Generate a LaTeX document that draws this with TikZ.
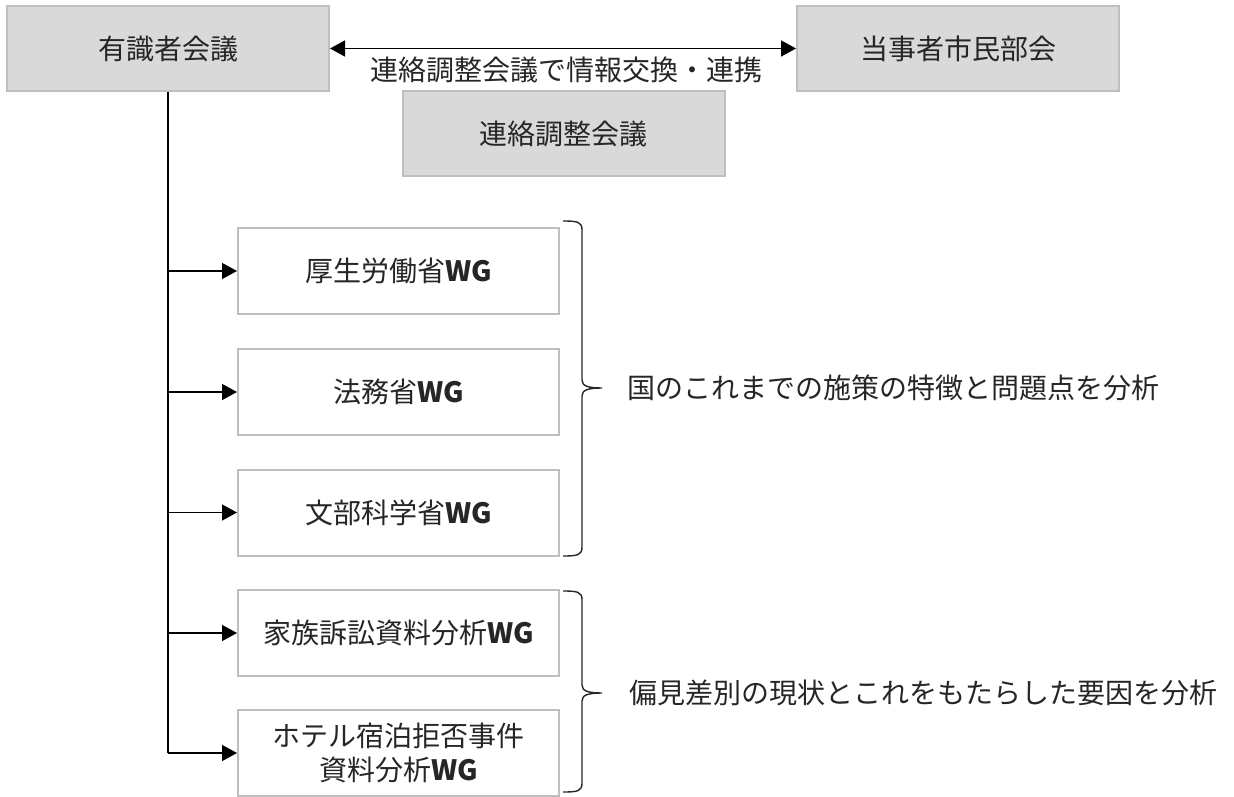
\documentclass[tikz,border=0pt]{standalone}
\usepackage{fontspec}
\setmainfont{Noto Sans CJK JP}
\usetikzlibrary{arrows.meta}
\begin{document}
\begin{tikzpicture}[x=0.5pt,y=-0.5pt,
    graybox/.style={draw=black!25,line width=1pt,fill=black!15,text=black!85,
      minimum width=161pt,minimum height=42.5pt,inner sep=0pt,font=\fontsize{14}{17}\selectfont},
    wgbox/.style={draw=black!25,line width=1pt,fill=white,text=black!85,align=center,
      minimum width=160.5pt,minimum height=43pt,inner sep=0pt,font=\fontsize{14}{17}\selectfont},
    arr/.style={-{Triangle[length=7.5pt,width=8pt]},line width=0.7pt},
    arrboth/.style={{Triangle[length=7.5pt,width=8pt]}-{Triangle[length=7.5pt,width=8pt]},line width=0.7pt},
    brace/.style={line width=0.7pt,black!85}]
      \useasboundingbox (0,0) rectangle (1234,796);
      \node[graybox] (yushiki) at (168,48.5) {有識者会議};
      \node[graybox] (toujisha) at (958,48.5) {当事者市民部会};
      \node[graybox] (renraku) at (563.5,134) {連絡調整会議};
      \draw[arrboth] (yushiki.east) -- (toujisha.west);
      \node[font=\fontsize{14}{17}\selectfont,text=black!85] (koukan) at (566,70) {連絡調整会議で情報交換・連携};
      \node[wgbox] (kousei) at (398.5,271) {厚生労働省\textbf{WG}};
      \node[wgbox] (houmu) at (398.5,392) {法務省\textbf{WG}};
      \node[wgbox] (monbu) at (398.5,512.5) {文部科学省\textbf{WG}};
      \node[wgbox] (kazoku) at (398.5,633) {家族訴訟資料分析\textbf{WG}};
      \node[wgbox] (hotel) at (398.5,753) {ホテル宿泊拒否事件\\資料分析\textbf{WG}};
      \draw[line width=0.8pt] (yushiki.south) -- (yushiki.south |- hotel.west);
      \foreach \wg in {kousei,houmu,monbu,kazoku,hotel}
        \draw[arr] (yushiki.south |- \wg.west) -- (\wg.west);
      \draw[brace]
      (563,221) .. controls (578,221) and (582,222) .. (582,230) --
      (582,380) .. controls (582,386) and (588,388) .. (602,388) .. controls (588,388) and (582,390) .. (582,396) --
      (582,547) .. controls (582,555) and (578,556) .. (563,556);
      \draw[brace]
      (563,591) .. controls (578,591) and (582,592) .. (582,600) --
      (582,685) .. controls (582,691) and (588,693) .. (602,693) .. controls (588,693) and (582,695) .. (582,701) --
      (582,783) .. controls (582,791) and (578,792) .. (563,792);
      \node[anchor=west,font=\fontsize{14}{17}\selectfont,text=black!85] (kuni) at (620,388) {国のこれまでの施策の特徴と問題点を分析};
      \node[anchor=west,font=\fontsize{14}{17}\selectfont,text=black!85] (henken) at (622,693) {偏見差別の現状とこれをもたらした要因を分析};
    \end{tikzpicture}
\end{document}
